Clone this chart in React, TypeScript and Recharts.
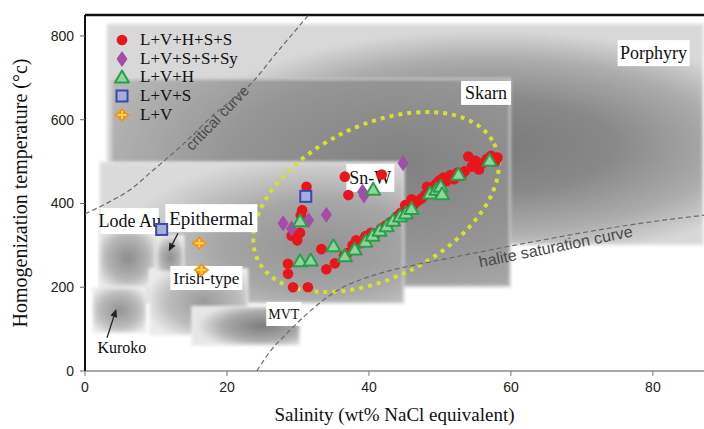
import React from "react";
import {
  ScatterChart,
  Scatter,
  XAxis,
  YAxis,
  ReferenceArea,
  ReferenceDot,
  ReferenceLine,
  Label,
} from "recharts";

// fluid inclusion data: salinity (wt% NaCl eq.) vs homogenization temperature (°C)
const lvhssSal = [31.2, 36.6, 37.1, 41.8, 30.6, 30.4, 29.1, 29.9, 30.3, 33.3, 28.6, 28.6, 29.3, 31.4, 34.0, 35.2,
  36.5, 37.0, 37.7, 38.2, 38.8, 39.5, 40.3, 41.0, 41.7, 42.4, 43.1, 43.8, 44.5, 45.1, 45.6, 46.3, 46.8, 47.4, 47.9, 48.4,
  48.9, 49.4, 49.9, 50.5, 50.9, 51.5, 52.0, 52.5, 53.0, 53.5, 54.0, 54.5, 55.0, 55.5, 56.0, 56.6, 57.2, 57.8, 58.1, 46.0, 48.2, 44.0];
const lvhssTemp = [440, 464, 420, 469, 384, 372, 323, 312, 330, 291, 256, 232, 200, 200, 243, 257,
  275, 282, 300, 312, 305, 322, 330, 328, 340, 348, 356, 364, 378, 396, 385, 397, 405, 412, 420, 428,
  438, 446, 455, 462, 453, 468, 458, 474, 466, 477, 512, 488, 502, 481, 496, 506, 514, 500, 510, 410, 440, 370];

const lvsssySal = [27.9, 29.1, 31.5, 34.0, 39.1, 39.3, 44.8];
const lvsssyTemp = [353, 340, 360, 373, 428, 419, 496];

const lvhSal = [30.3, 30.3, 31.8, 35.0, 36.6, 38.0, 39.5, 40.5, 41.5, 42.5, 43.4, 44.4, 45.2, 46.0, 40.6, 48.6, 49.5, 50.1, 50.3, 52.6, 57.0];
const lvhTemp = [359, 263, 265, 299, 275, 291, 310, 324, 336, 347, 360, 370, 377, 388, 434, 425, 434, 441, 423, 470, 503];

const lvsSal = [10.8, 31.1];
const lvsTemp = [338, 417];

const lvSal = [16.1, 16.4];
const lvTemp = [305, 241];

// reference curves
const criticalSal = [0, 3, 6.3, 9.5, 13.4, 18, 23.5, 27, 31.5];
const criticalTemp = [375, 400, 432, 478, 535, 610, 688, 760, 850];
const haliteSal = [24.2, 26, 28.5, 31.5, 35.6, 40, 45, 50, 55, 62, 70, 78, 87.2];
const haliteTemp = [0, 45, 91, 140, 193, 225, 248, 265, 282, 305, 330, 352, 372];

// deposit-type fields
const fieldNames = ["Porphyry", "Skarn", "Sn-W", "Lode Au", "Kuroko", "Irish-type", "Epithermal", "MVT"];
const fieldSalMin = [3, 3.5, 2, 2, 1, 9, 10, 15];
const fieldSalMax = [87.2, 60, 45, 10, 8.7, 23, 14, 30.3];
const fieldTempMin = [300, 200, 160, 200, 90, 85, 235, 60];
const fieldTempMax = [830, 700, 500, 340, 200, 245, 325, 155];

// field labels
const tagText = ["Porphyry", "Skarn", "Sn-W", "Lode Au", "Epithermal", "Irish-type", "MVT", "Kuroko"];
const tagSal = [80.1, 56.5, 40.2, 6.3, 17.8, 17.1, 28, 5.2];
const tagTemp = [759, 664, 461, 358, 365, 222, 136, 55];

const xTicks = [0, 20, 40, 60, 80];
const yTicks = [0, 200, 400, 600, 800];

const serif = '"Liberation Serif", "Times New Roman", serif';
const sans = '"Liberation Sans", Arial, sans-serif';

const zip = (xs: number[], ys: number[]) => xs.map((x, i) => ({ x, y: ys[i] }));

type Kind = "circle" | "diamond" | "triangle" | "square" | "cross";

const series: { name: string; kind: Kind; data: { x: number; y: number }[] }[] = [
  { name: "L+V+H+S+S", kind: "circle", data: zip(lvhssSal, lvhssTemp) },
  { name: "L+V+S+S+Sy", kind: "diamond", data: zip(lvsssySal, lvsssyTemp) },
  { name: "L+V+H", kind: "triangle", data: zip(lvhSal, lvhTemp) },
  { name: "L+V+S", kind: "square", data: zip(lvsSal, lvsTemp) },
  { name: "L+V", kind: "cross", data: zip(lvSal, lvTemp) },
];

const Marker = ({ kind, cx, cy }: { kind: Kind; cx: number; cy: number }) => {
  if (kind === "circle") return <circle cx={cx} cy={cy} r={5.3} fill="#e8161c" />;
  if (kind === "diamond")
    return <polygon points={`${cx},${cy - 8} ${cx + 5.5},${cy} ${cx},${cy + 8} ${cx - 5.5},${cy}`} fill="#a24da6" />;
  if (kind === "triangle")
    return (
      <polygon
        points={`${cx},${cy - 6.5} ${cx + 7},${cy + 5.5} ${cx - 7},${cy + 5.5}`}
        fill="#8fd49c"
        stroke="#28a04a"
        strokeWidth={2}
        strokeLinejoin="round"
      />
    );
  if (kind === "square")
    return <rect x={cx - 5.5} y={cy - 5.5} width={11} height={11} fill="#a8acda" stroke="#3a48a8" strokeWidth={2} />;
  return (
    <g>
      <path
        d={`M${cx},${cy - 7} Q${cx + 3},${cy - 3} ${cx + 8},${cy} Q${cx + 3},${cy + 3} ${cx},${cy + 7} Q${cx - 3},${cy + 3} ${cx - 8},${cy} Q${cx - 3},${cy - 3} ${cx},${cy - 7} Z`}
        fill="#f39018"
      />
      <path d={`M${cx - 4.5},${cy}H${cx + 4.5}M${cx},${cy - 4}V${cy + 4}`} stroke="#ffd84a" strokeWidth={2} />
    </g>
  );
};

const fieldGrad: Record<string, { cx: number; cy: number; r: number; stops: [number, string][] }> = {
  Porphyry: { cx: 0.64, cy: 0.55, r: 0.52, stops: [[0, "#7a7a7a"], [0.4, "#888888"], [0.75, "#acacac"], [1, "#d8d8d8"]] },
  Skarn: { cx: 0.72, cy: 0.42, r: 0.85, stops: [[0, "#808080"], [0.5, "#959595"], [1, "#bcbcbc"]] },
  "Sn-W": { cx: 0.72, cy: 0.6, r: 0.65, stops: [[0, "#939393"], [0.5, "#a6a6a6"], [1, "#dadada"]] },
  "Lode Au": { cx: 0.5, cy: 0.5, r: 0.6, stops: [[0, "#8c8c8c"], [0.6, "#b4b4b4"], [1, "#e6e6e6"]] },
  Kuroko: { cx: 0.5, cy: 0.5, r: 0.6, stops: [[0, "#939393"], [0.6, "#bababa"], [1, "#eaeaea"]] },
  "Irish-type": { cx: 0.55, cy: 0.5, r: 0.6, stops: [[0, "#9a9a9a"], [0.6, "#bcbcbc"], [1, "#eaeaea"]] },
  Epithermal: { cx: 0.5, cy: 0.6, r: 0.6, stops: [[0, "#8e8e8e"], [0.6, "#b6b6b6"], [1, "#e6e6e6"]] },
  MVT: { cx: 0.65, cy: 0.5, r: 0.6, stops: [[0, "#7c7c7c"], [0.6, "#aaaaaa"], [1, "#e6e6e6"]] },
};

const tagStyle: Record<string, { size: number; w: number; h: number; box: boolean }> = {
  Porphyry: { size: 18, w: 72, h: 26, box: true },
  Skarn: { size: 18, w: 50, h: 24, box: true },
  "Sn-W": { size: 18, w: 48, h: 28, box: true },
  "Lode Au": { size: 18, w: 58, h: 26, box: true },
  Epithermal: { size: 19, w: 92, h: 28, box: true },
  "Irish-type": { size: 17, w: 72, h: 24, box: true },
  MVT: { size: 14, w: 35, h: 24, box: true },
  Kuroko: { size: 16, w: 54, h: 22, box: false },
};

const FieldBox = (p: any) => {
  const x = p.x, w = p.width;
  const y = p.height < 0 ? p.y + p.height : p.y;
  const h = Math.abs(p.height);
  return (
    <g filter="url(#soft)">
      <rect x={x} y={y} width={w} height={h} fill={`url(#grad${p.idx})`} />
      <rect x={x + 1} y={y + 1} width={w - 2} height={h - 2} fill="none" stroke="#f4f4f4" strokeOpacity={0.55} strokeWidth={2} />
    </g>
  );
};

const EllipseShape = (p: any) => {
  const cx = p.x + p.width / 2;
  const cy = p.y + p.height / 2;
  return (
    <ellipse
      cx={cx}
      cy={cy}
      rx={Math.abs(p.width) / 2}
      ry={Math.abs(p.height) / 2}
      transform={`rotate(-26.3 ${cx} ${cy})`}
      fill="none"
      stroke="#d5e12a"
      strokeWidth={4}
      strokeDasharray="4 5"
    />
  );
};

const FieldTag = ({ cx, cy, text }: { cx: number; cy: number; text: string }) => {
  const s = tagStyle[text];
  return (
    <g>
      {s.box && <rect x={cx - s.w / 2} y={cy - s.h / 2} width={s.w} height={s.h} fill="#ffffff" />}
      <text x={cx} y={cy} textAnchor="middle" dominantBaseline="central" fontFamily={serif} fontSize={s.size} fill="#111">
        {text}
      </text>
    </g>
  );
};

const CurveText = ({ cx, cy, text, angle, size }: any) => (
  <text
    x={cx}
    y={cy}
    textAnchor="middle"
    dominantBaseline="central"
    fontFamily={sans}
    fontSize={size}
    fill="#4a4a4a"
    transform={`rotate(${angle} ${cx} ${cy})`}
  >
    {text}
  </text>
);

const Arrow = (p: any) => {
  const { x1, y1, x2, y2 } = p;
  const a = Math.atan2(y2 - y1, x2 - x1);
  const L = 8, Wd = 3.5;
  const bx = x2 - L * Math.cos(a), by = y2 - L * Math.sin(a);
  const px = -Math.sin(a) * Wd, py = Math.cos(a) * Wd;
  return (
    <g>
      <line x1={x1} y1={y1} x2={bx} y2={by} stroke="#222" strokeWidth={1.3} />
      <polygon points={`${x2},${y2} ${bx + px},${by + py} ${bx - px},${by - py}`} fill="#222" />
    </g>
  );
};

const noDot = () => <g />;

export default function App() {
  return (
    <div style={{ position: "absolute", left: 0, top: 0, width: 704, height: 429, background: "#fff" }}>
      <ScatterChart width={704} height={429} margin={{ top: 15, right: 0, bottom: 28, left: 25 }}>
        <defs>
          <filter id="soft" x="-5%" y="-5%" width="110%" height="110%">
            <feGaussianBlur stdDeviation="1.5" />
          </filter>
          {fieldNames.map((n, i) => {
            const g = fieldGrad[n];
            return (
              <radialGradient key={n} id={`grad${i}`} cx={g.cx} cy={g.cy} r={g.r}>
                {g.stops.map(([o, c], k) => (
                  <stop key={k} offset={o} stopColor={c} />
                ))}
              </radialGradient>
            );
          })}
        </defs>
        <XAxis
          type="number"
          dataKey="x"
          domain={[0, 87.2]}
          ticks={xTicks}
          allowDataOverflow
          height={30}
          tickSize={5}
          tickMargin={6}
          axisLine={{ stroke: "#8a8a8a", strokeWidth: 1.5 }}
          tickLine={{ stroke: "#777" }}
          tick={{ fill: "#222", fontSize: 14, fontFamily: sans }}
        >
          <Label
            value="Salinity (wt% NaCl equivalent)"
            position="bottom"
            offset={7}
            style={{ fontFamily: serif, fontSize: 19, fill: "#111" }}
          />
        </XAxis>
        <YAxis
          type="number"
          dataKey="y"
          domain={[0, 850]}
          ticks={yTicks}
          allowDataOverflow
          width={60}
          tickSize={5}
          tickMargin={6}
          axisLine={{ stroke: "#111", strokeWidth: 2 }}
          tickLine={{ stroke: "#666" }}
          tick={{ fill: "#222", fontSize: 14, fontFamily: sans }}
        >
          <Label
            value="Homogenization temperature (°c)"
            angle={-90}
            position="insideLeft"
            offset={-5}
            style={{ textAnchor: "middle", fontFamily: serif, fontSize: 20, fill: "#111" }}
          />
        </YAxis>

        {fieldNames.map((n, i) => (
          <ReferenceArea
            key={n}
            x1={fieldSalMin[i]}
            x2={fieldSalMax[i]}
            y1={fieldTempMin[i]}
            y2={fieldTempMax[i]}
            fillOpacity={1}
            shape={(p: any) => <FieldBox {...p} idx={i} />}
          />
        ))}
        <ReferenceArea x1={22.45} x2={59.55} y1={221} y2={586} shape={EllipseShape} />

        {tagText.map((t, i) => (
          <ReferenceDot key={t} x={tagSal[i]} y={tagTemp[i]} r={0} shape={(p: any) => <FieldTag cx={p.cx} cy={p.cy} text={t} />} />
        ))}
        <ReferenceDot x={18.6} y={605} r={0} shape={(p: any) => <CurveText {...p} text="critical curve" angle={-46} size={15} />} />
        <ReferenceDot x={66.3} y={297} r={0} shape={(p: any) => <CurveText {...p} text="halite saturation curve" angle={-11.5} size={16} />} />

        <ReferenceLine segment={[{ x: 13.1, y: 329 }, { x: 11.8, y: 286 }]} shape={Arrow} />
        <ReferenceLine segment={[{ x: 3.1, y: 79 }, { x: 4.4, y: 148 }]} shape={Arrow} />
        <ReferenceLine y={850} stroke="#111" strokeWidth={2.5} ifOverflow="visible" />

        <Scatter
          data={zip(criticalSal, criticalTemp)}
          fill="#666"
          line={{ stroke: "#6a6a6a", strokeWidth: 1.2, strokeDasharray: "5 3" }}
          lineJointType="monotoneX"
          shape={noDot}
          isAnimationActive={false}
        />
        <Scatter
          data={zip(haliteSal, haliteTemp)}
          fill="#666"
          line={{ stroke: "#6a6a6a", strokeWidth: 1.2, strokeDasharray: "5 3" }}
          lineJointType="monotoneX"
          shape={noDot}
          isAnimationActive={false}
        />
        {series.map((s) => (
          <Scatter
            key={s.name}
            name={s.name}
            data={s.data}
            shape={(p: any) => <Marker kind={s.kind} cx={p.cx} cy={p.cy} />}
            isAnimationActive={false}
          />
        ))}
      </ScatterChart>

      <div style={{ position: "absolute", left: 112, top: 31, fontFamily: serif, fontSize: 17, color: "#111" }}>
        {series.map((s) => (
          <div key={s.name} style={{ display: "flex", alignItems: "center", height: 18.6 }}>
            <svg width={22} height={18}>
              <Marker kind={s.kind} cx={10} cy={9} />
            </svg>
            <span style={{ marginLeft: 6, lineHeight: "18px" }}>{s.name}</span>
          </div>
        ))}
      </div>
    </div>
  );
}
